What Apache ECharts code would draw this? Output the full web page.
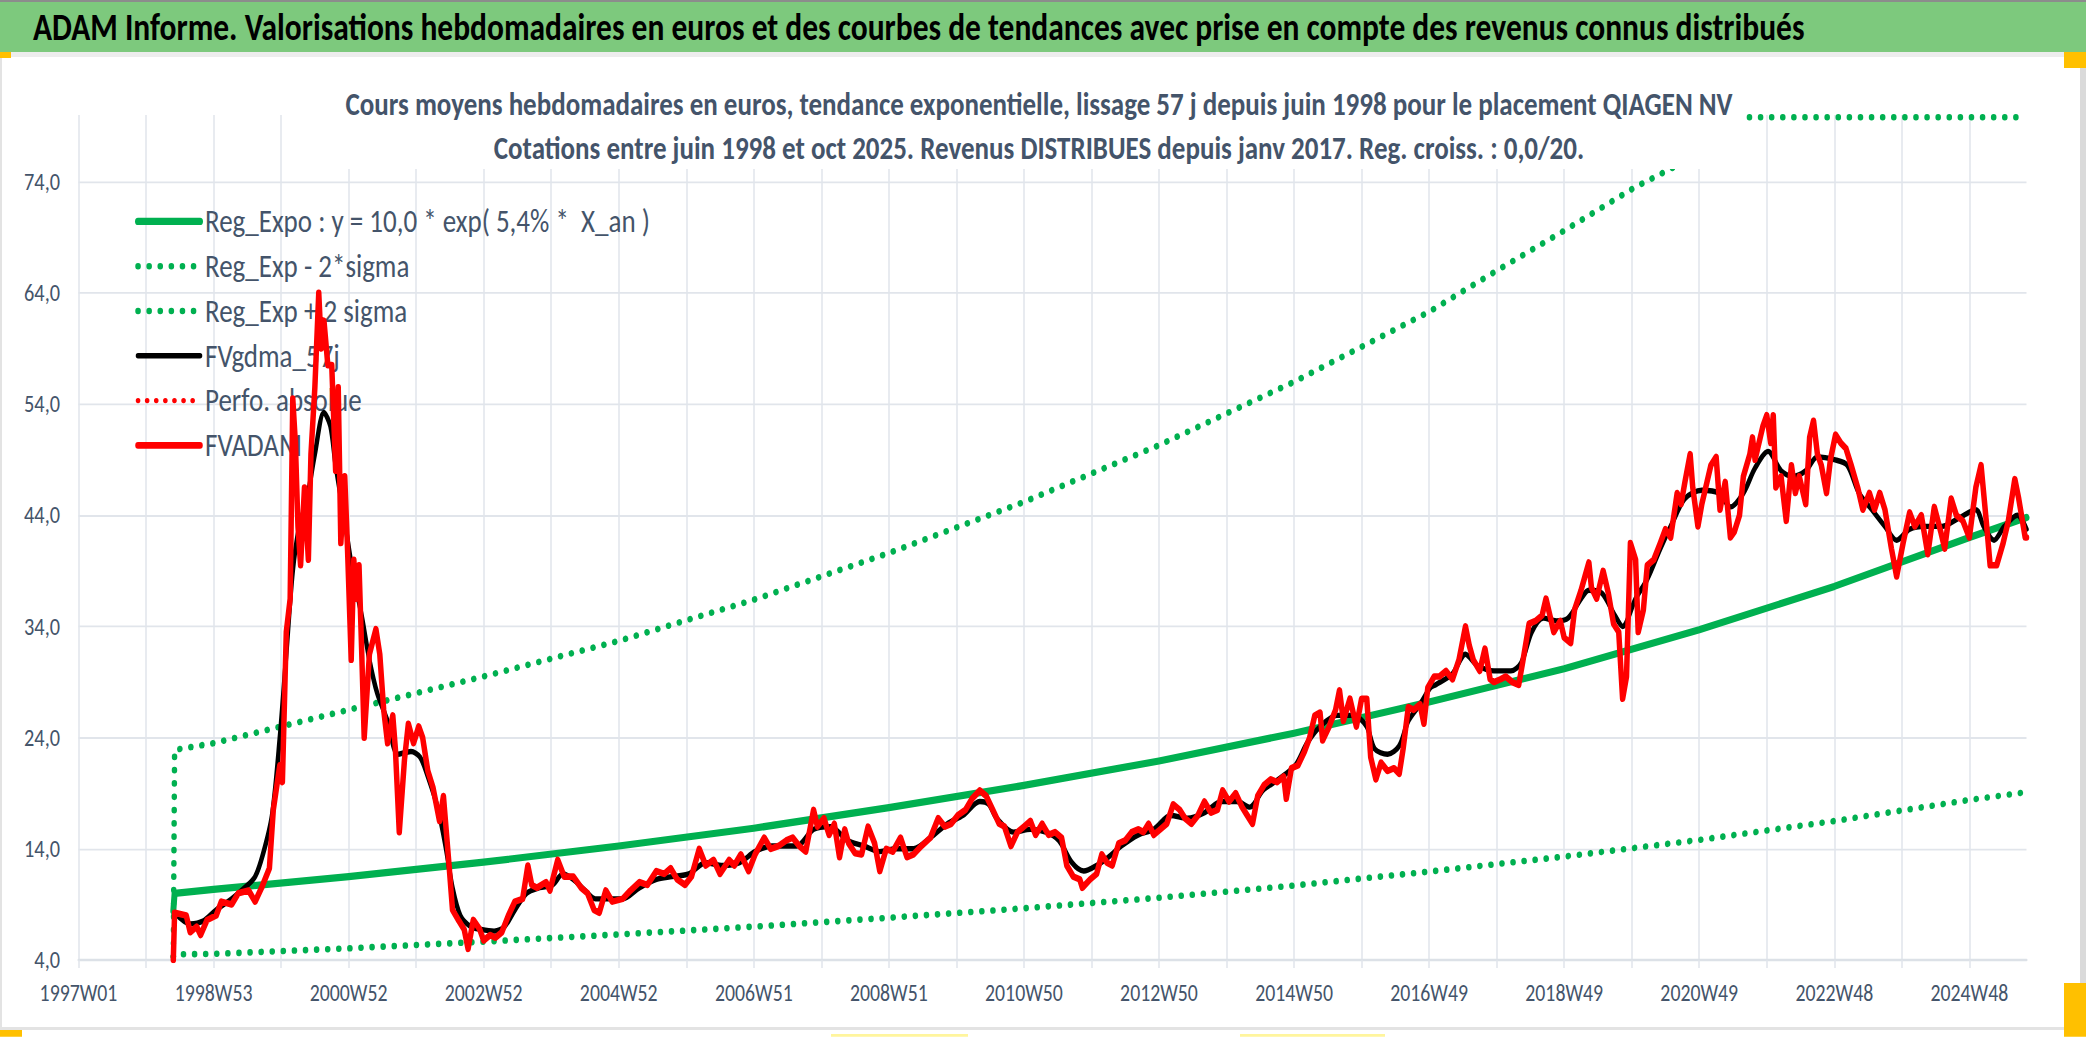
<!DOCTYPE html>
<html><head><meta charset="utf-8">
<script src="https://cdn.jsdelivr.net/npm/echarts@6/dist/echarts.min.js"></script>
<style>
html,body{margin:0;padding:0;background:#fff;overflow:hidden;width:2086px;height:1037px}
#c{width:2086px;height:864.17px;transform:scaleY(1.2);transform-origin:0 0}
</style>
</head><body><div id="c"></div>
<script>
// ---------- data ----------
const xTickLabels = ['1997W01','1998W53','2000W52','2002W52','2004W52','2006W51','2008W51','2010W50','2012W50','2014W50','2016W49','2018W49','2020W49','2022W48','2024W48'];
const yTicks = [4,14,24,34,44,54,64,74];
const seriesNames = ['Reg_Expo : y = 10,0 * exp( 5,4% *  X_an )','Reg_Exp - 2*sigma','Reg_Exp + 2 sigma','FVgdma_57j','Perfo. absolue','FVADAM'];
const titleText = 'ADAM Informe. Valorisations hebdomadaires en euros et des courbes de tendances avec prise en compte des revenus connus distribués';
const subtitle1 = 'Cours moyens hebdomadaires en euros, tendance exponentielle, lissage 57 j depuis juin 1998 pour le placement QIAGEN NV';
const subtitle2 = 'Cotations entre juin 1998 et oct 2025. Revenus DISTRIBUES depuis janv 2017. Reg. croiss. : 0,0/20.';

// [week index since 1997W01, value]
const regExpo = [[73,8.4],[74,10.0],[104,10.35],[208,11.5],[312,12.8],[416,14.25],[520,15.85],[624,17.7],[728,19.7],[832,21.9],[936,24.4],[1040,27.2],[1144,30.2],[1248,33.7],[1352,37.6],[1456,42.0],[1500,43.8]];
const regLow = [[73,4.3],[74,4.5],[104,4.55],[208,5.05],[312,5.65],[416,6.3],[520,7.0],[624,7.8],[728,8.65],[832,9.6],[936,10.7],[1040,11.95],[1144,13.3],[1248,14.8],[1352,16.5],[1456,18.4],[1500,19.1]];
const regHigh = [[73,4.3],[74,22.9],[104,23.5],[208,26.5],[312,29.5],[416,32.7],[520,36.4],[624,40.6],[728,45.2],[832,50.3],[936,56.0],[1040,62.3],[1092,66.0],[1144,69.6],[1197,73.4],[1248,76.5],[1283,79.8],[1500,79.8]];
const fvgdma = [[74,8.25],[86,7.25],[96,7.5],[106,8.5],[118,9.5],[128,10.5],[136,11.5],[142,13.5],[149,17.0],[155,24.0],[160,31.5],[165,39.0],[170,43.0],[176,45.5],[182,49.5],[189,53.25],[194,52.0],[198,48.5],[205,43.5],[211,39.0],[218,35.0],[224,31.0],[230,28.0],[238,25.5],[246,22.5],[256,22.75],[263,22.25],[269,20.5],[277,17.5],[283,14.0],[288,10.5],[294,8.0],[302,7.0],[310,6.75],[320,6.6],[328,7.0],[336,8.5],[345,10.0],[355,10.5],[365,10.75],[373,11.75],[381,11.25],[390,10.25],[398,9.5],[406,9.5],[419,9.5],[432,10.5],[445,11.25],[457,11.5],[470,11.75],[483,12.75],[496,12.5],[509,12.75],[521,13.75],[534,14.25],[547,14.25],[553,14.25],[566,15.75],[579,16.0],[592,14.75],[605,14.25],[617,13.75],[630,14.0],[643,14.0],[656,15.0],[669,16.25],[681,17.0],[694,18.25],[701,18.0],[707,16.75],[720,15.5],[733,15.75],[745,15.5],[755,14.75],[765,12.75],[774,12.0],[784,12.5],[793,13.25],[803,14.25],[816,15.25],[828,15.75],[841,17.0],[854,16.75],[867,17.25],[880,18.25],[892,18.25],[902,17.75],[912,19.25],[924,20.25],[937,21.5],[946,23.5],[956,25.0],[969,26.0],[982,26.0],[992,25.0],[998,23.0],[1008,22.5],[1017,23.25],[1024,25.5],[1033,27.0],[1041,28.5],[1045,28.75],[1058,29.75],[1068,31.5],[1077,30.5],[1090,30.0],[1103,30.0],[1111,30.75],[1119,33.5],[1128,34.75],[1138,34.5],[1147,34.75],[1157,36.5],[1163,37.25],[1173,37.0],[1183,35.0],[1189,34.0],[1199,36.5],[1208,38.25],[1218,41.0],[1227,43.25],[1237,45.5],[1250,46.25],[1263,46.0],[1272,44.75],[1282,46.0],[1291,48.25],[1301,49.75],[1311,48.0],[1320,47.5],[1330,48.0],[1339,49.25],[1352,49.0],[1362,48.5],[1371,46.0],[1381,44.5],[1391,43.0],[1400,41.75],[1410,42.75],[1422,43.0],[1435,43.0],[1448,43.75],[1461,44.5],[1467,43.0],[1475,41.75],[1483,43.0],[1493,44.0],[1500,42.75]];
const perfoAbsolue = [];
const fvadam = [[73,4.0],[74,8.25],[83,8.0],[86,6.5],[91,7.0],[94,6.25],[99,7.6],[106,8.0],[110,9.25],[118,9.0],[123,10.0],[131,10.25],[136,9.25],[141,10.5],[147,12.25],[150,17.5],[155,21.5],[157,20.0],[160,33.5],[163,36.5],[165,54.5],[167,50.5],[169,43.0],[171,39.5],[174,46.5],[177,40.0],[179,49.5],[182,55.5],[185,64.0],[187,59.0],[189,61.5],[192,57.5],[195,57.5],[198,48.0],[200,55.5],[202,41.5],[205,47.5],[207,41.5],[210,31.0],[212,40.0],[214,36.5],[216,39.5],[218,32.0],[220,24.0],[224,31.5],[229,33.75],[232,31.5],[235,26.5],[238,23.5],[242,26.0],[244,23.0],[247,15.5],[251,22.0],[254,25.25],[258,23.5],[262,25.0],[265,24.0],[269,21.0],[273,19.5],[278,16.5],[281,18.75],[285,13.0],[288,8.5],[293,7.5],[297,6.75],[300,5.0],[304,7.6],[309,6.75],[312,5.75],[317,6.25],[321,6.0],[326,6.5],[331,8.0],[336,9.25],[342,9.5],[346,12.5],[349,10.75],[353,10.5],[360,11.0],[363,10.25],[369,13.0],[374,11.5],[381,11.5],[387,10.5],[392,10.0],[397,8.5],[401,8.25],[406,10.25],[411,9.25],[419,9.5],[425,10.25],[432,11.0],[438,10.75],[445,12.0],[451,11.75],[456,12.25],[461,11.25],[467,10.75],[472,11.5],[478,14.0],[483,12.5],[489,13.0],[494,11.75],[501,13.0],[505,12.5],[510,13.5],[516,12.0],[521,13.5],[528,15.0],[533,14.0],[539,14.25],[545,14.75],[550,15.0],[555,14.25],[560,13.75],[566,17.5],[569,16.0],[574,16.75],[578,15.25],[582,16.25],[586,13.25],[590,15.75],[593,14.5],[598,13.6],[603,13.5],[608,16.0],[613,14.5],[617,12.0],[622,14.0],[627,13.75],[633,15.0],[638,13.25],[643,13.5],[649,14.25],[656,15.0],[662,16.75],[667,16.0],[672,16.25],[677,17.0],[683,17.5],[688,18.5],[694,19.25],[699,18.75],[704,17.5],[709,16.25],[713,16.0],[718,14.25],[723,15.5],[728,16.0],[733,16.5],[737,15.25],[742,16.25],[747,15.25],[752,15.5],[757,15.0],[761,12.5],[766,11.5],[771,11.25],[773,10.5],[779,11.25],[784,11.75],[788,13.5],[792,12.75],[796,12.5],[801,14.5],[806,14.75],[811,15.5],[816,15.75],[820,15.5],[824,16.25],[828,15.25],[833,15.75],[838,16.25],[843,18.0],[848,17.5],[852,16.75],[857,16.25],[862,17.0],[867,18.25],[872,17.25],[877,17.5],[881,19.25],[886,18.25],[891,19.0],[896,17.75],[900,17.0],[904,16.25],[908,18.75],[913,19.75],[918,20.25],[923,20.0],[928,20.5],[930,18.5],[934,21.25],[939,21.5],[944,22.75],[948,24.0],[952,26.0],[956,26.25],[958,23.75],[963,25.0],[968,26.5],[971,28.25],[974,25.5],[979,27.5],[984,25.0],[988,27.5],[992,27.5],[995,22.25],[999,20.25],[1003,21.75],[1008,21.0],[1013,21.25],[1017,20.75],[1020,23.0],[1024,26.75],[1028,26.5],[1033,27.0],[1036,25.25],[1039,28.5],[1044,29.5],[1048,29.5],[1053,30.0],[1058,29.25],[1063,31.0],[1068,34.0],[1071,32.25],[1074,31.0],[1079,30.0],[1083,32.0],[1087,29.25],[1090,29.0],[1095,29.25],[1099,29.5],[1104,29.0],[1109,28.75],[1112,30.75],[1117,34.25],[1122,34.5],[1127,35.0],[1130,36.5],[1133,35.0],[1136,33.5],[1141,34.5],[1144,33.0],[1149,32.5],[1152,35.5],[1157,37.25],[1160,38.5],[1163,39.75],[1165,37.5],[1169,36.5],[1174,39.0],[1178,37.0],[1182,34.25],[1186,33.5],[1189,27.5],[1192,29.5],[1195,41.5],[1199,40.0],[1201,33.5],[1205,35.5],[1208,39.5],[1213,40.0],[1218,41.5],[1222,42.75],[1226,42.0],[1231,46.0],[1234,45.0],[1237,47.0],[1241,49.5],[1243,46.5],[1247,43.0],[1250,45.0],[1254,47.0],[1257,48.5],[1261,49.25],[1264,44.5],[1268,47.0],[1272,42.0],[1275,42.5],[1279,44.0],[1282,47.5],[1287,49.5],[1289,51.0],[1291,49.0],[1295,51.0],[1297,52.0],[1300,53.0],[1303,50.5],[1305,53.0],[1307,46.5],[1311,47.5],[1315,43.5],[1319,48.5],[1322,46.0],[1325,47.5],[1330,45.0],[1333,51.0],[1336,52.5],[1339,49.5],[1342,48.5],[1346,46.0],[1349,49.0],[1353,51.25],[1357,50.5],[1361,50.0],[1365,48.5],[1370,46.5],[1374,44.5],[1379,46.0],[1383,44.5],[1387,46.0],[1391,44.5],[1396,41.0],[1400,38.5],[1405,41.5],[1410,44.25],[1414,43.0],[1419,44.0],[1424,40.5],[1429,44.75],[1434,42.5],[1437,41.0],[1442,45.5],[1446,44.0],[1451,43.5],[1456,42.0],[1461,46.5],[1465,48.5],[1469,43.5],[1472,39.5],[1477,39.5],[1482,41.5],[1486,43.5],[1491,47.25],[1494,45.5],[1499,42.0],[1500,42.0]];

// ---------- layout (drawn in a space compressed vertically by SY, then stretched back by CSS) ----------
const SY = 1.2;
const Y = v => v / SY;
const FONT = "Carlito, Calibri, 'Liberation Sans', sans-serif";
const mctx = document.createElement('canvas').getContext('2d');
function fit(text, width, weight) {
  mctx.font = weight + ' 100px ' + FONT;
  return Math.round(1000 * width / mctx.measureText(text).width) / 10;
}
const titleFS = fit(titleText, 1772, 'bold');
const subFS = fit(subtitle1, 1389, 'bold');
const legendFS = fit(seriesNames[0], 445, 'normal');
const xFS = fit('2024W48', 78, 'normal');
const yFS = fit('74,0', 36, 'normal');

const X_MAX = 1500, WEEKS_PER_TICK = 52, WEEKS_PER_LABEL = 104;
const xTickValues = [];
for (let i = 0; i <= (xTickLabels.length - 1) * 2; i++) xTickValues.push(i * WEEKS_PER_TICK);
const xLabelValues = xTickLabels.map((_, i) => i * WEEKS_PER_LABEL);

const TXT = '#44546A', GRID = '#E1E5EB';
const GREEN = '#00B050', RED = '#FF0000', BLACK = '#000000';
const dotted = (color, w, gap) => ({color, width: w, type: [0.1, gap], cap: 'round', join: 'round'});
const solid = (color, w) => ({color, width: w, type: 'solid', cap: 'round', join: 'round'});
const rect = (x, y, w, h, fill, z) => ({type: 'rect', z: z || 100, shape: {x, y: Y(y), width: w, height: Y(h)}, style: {fill}});
const lineSeries = (i, data, lineStyle, z, extra) => Object.assign({
  name: seriesNames[i], type: 'line', data, showSymbol: false, symbol: 'none',
  itemStyle: {color: lineStyle.color}, lineStyle, z
}, extra || {});

const H = 1037 / SY;
const chart = echarts.init(document.getElementById('c'), null, {renderer: 'svg', width: 2086, height: H});
chart.setOption({
  animation: false,
  backgroundColor: '#ffffff',
  grid: {left: 78.5, right: 59.5, top: Y(115), bottom: H - Y(960), containLabel: false},
  xAxis: {
    type: 'value', min: 0, max: X_MAX,
    axisLine: {show: true, onZero: false, lineStyle: {color: '#DCE1E7', width: 2}},
    axisTick: {show: true, length: Y(8), lineStyle: {color: GRID, width: 1.5}, customValues: xTickValues},
    splitLine: {show: true, lineStyle: {color: GRID, width: 1.5}},
    axisLabel: {customValues: xLabelValues, margin: Y(993 - 960) - xFS / 2, color: TXT, fontFamily: FONT, fontSize: xFS,
      lineHeight: xFS, formatter: v => xTickLabels[Math.round(v / WEEKS_PER_LABEL)] || ''}
  },
  yAxis: {
    type: 'value', min: 4, max: 80,
    axisLine: {show: false}, axisTick: {show: false, customValues: yTicks},
    splitLine: {show: true, lineStyle: {color: GRID, width: 1.5}},
    axisLabel: {customValues: yTicks, margin: 18.5, color: TXT, fontFamily: FONT, fontSize: yFS,
      formatter: v => v.toFixed(1).replace('.', ',')}
  },
  legend: {
    orient: 'vertical', left: 135, top: Y(222) - 13 - 1, padding: 0, z: 1, selectedMode: false,
    itemWidth: 62, itemHeight: 16, itemGap: Y(43.6) - 26,
    itemStyle: {opacity: 0},
    lineStyle: {width: 'inherit', type: 'inherit', cap: 'round'},
    textStyle: {color: TXT, fontFamily: FONT, fontSize: legendFS, lineHeight: 26},
    data: seriesNames
  },
  series: [
    lineSeries(0, regExpo, solid(GREEN, 6), 2),
    lineSeries(1, regLow, dotted(GREEN, 5.5, 11), 2),
    lineSeries(2, regHigh, dotted(GREEN, 5.5, 11), 2),
    lineSeries(3, fvgdma, solid(BLACK, 4.5), 3, {smooth: 0.3}),
    lineSeries(4, perfoAbsolue, dotted(RED, 4.5, 9), 3),
    lineSeries(5, fvadam, solid(RED, 5.5), 4)
  ],
  graphic: {elements: [
    rect(0, 0, 2086, 2, '#8C8C8C'),
    rect(0, 2, 2086, 50, '#7DC97D'),
    rect(0, 52, 2086, 5, '#EDEDED'),
    rect(0, 52, 11, 6, '#FFC000', 101),
    rect(2064, 52, 22, 16, '#FFC000', 101),
    rect(2080, 68, 6, 915, '#DADADA', 101),
    rect(2064, 983, 22, 54, '#FFC000', 101),
    rect(0, 1027, 2064, 3, '#E3E3E3'),
    rect(0, 1030, 2086, 7, '#FFFFFF'),
    rect(0, 1030, 22, 7, '#FFC000', 101),
    rect(831, 1034, 137, 3, '#FFF59D', 101),
    rect(1240, 1034, 145, 3, '#FFF59D', 101),
    rect(0, 57, 2, 970, '#E3E3E3'),
    {type: 'text', z: 102, x: 33, y: Y(27), style: {text: titleText, fill: '#000000', font: 'bold ' + titleFS + 'px ' + FONT, textVerticalAlign: 'middle'}},
    rect(315, 60, 1430, 109, '#FFFFFF'),
    {type: 'text', z: 102, x: 1039, y: Y(104), style: {text: subtitle1, fill: TXT, font: 'bold ' + subFS + 'px ' + FONT, textAlign: 'center', textVerticalAlign: 'middle'}},
    {type: 'text', z: 102, x: 1039, y: Y(148), style: {text: subtitle2, fill: TXT, font: 'bold ' + subFS + 'px ' + FONT, textAlign: 'center', textVerticalAlign: 'middle'}}
  ]}
});
</script>
</body></html>
